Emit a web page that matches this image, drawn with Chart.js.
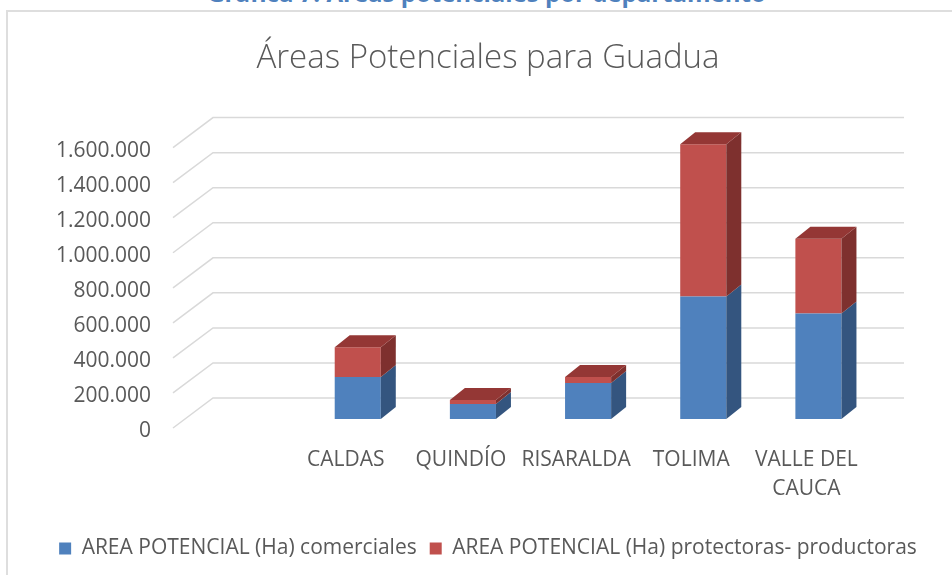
<!DOCTYPE html>
<html>
<head>
<meta charset="utf-8">
<script src="https://cdn.jsdelivr.net/npm/chart.js@4.4.1/dist/chart.umd.min.js"></script>
<style>
body { margin: 0; background: #fff; overflow: hidden; font-family: 'Open Sans', sans-serif; }
#hdr { position: absolute; left: 0; top: -19px; width: 973px; text-align: center; font-weight: bold; font-size: 24px; line-height: 24px; color: #4f81bd; white-space: nowrap; }
#frame { position: absolute; left: 6px; top: 10px; width: 2000px; height: 2000px; border-left: 2px solid #dedede; border-top: 2px solid #dedede; }
#chart { position: absolute; left: 0; top: 0; }
</style>
</head>
<body>
<div id="hdr">Gráfica 7. Áreas potenciales por departamento</div>
<div id="frame"></div>
<canvas id="chart" width="952" height="575"></canvas>
<script>
// Data (hectáreas)
const departamentos = ['', 'CALDAS', 'QUINDÍO', 'RISARALDA', 'TOLIMA', ['VALLE DEL', 'CAUCA']];
const comerciales = [null, 239000, 85000, 205000, 699000, 602000];
const protectoras = [null, 170000, 23000, 34000, 869000, 426000];
const serieNombres = ['AREA POTENCIAL (Ha) comerciales', 'AREA POTENCIAL (Ha) protectoras- productoras'];

// 3D offsets
const DX = 15, DY = 12;          // bar depth
const WALL_X = 28, WALL_Y = 21;  // back wall from bar plane
const FRONT_X = 12, FRONT_Y = 9; // front edge from bar plane
const PAD_BOTTOM = 6;

function miles(v) {
    return String(v).replace(/\B(?=(\d{3})+(?!\d))/g, '.');
}

const fake3d = {
    id: 'fake3d',
    beforeDatasetsDraw(chart) {
        const { ctx, chartArea, scales } = chart;
        const y = scales.y;
        ctx.save();
        ctx.strokeStyle = '#d9d9d9';
        ctx.lineWidth = 1.5;
        y.ticks.forEach(t => {
            const py = y.getPixelForValue(t.value);
            ctx.beginPath();
            ctx.moveTo(chartArea.left - FRONT_X, py + FRONT_Y);
            ctx.lineTo(chartArea.left + WALL_X, py - WALL_Y);
            ctx.lineTo(chartArea.right + WALL_X, py - WALL_Y);
            ctx.stroke();
        });
        ctx.restore();
    },
    afterDatasetsDraw(chart) {
        const ctx = chart.ctx;
        const last = chart.data.datasets.length - 1;
        ctx.save();
        chart.data.datasets.forEach((ds, di) => {
            chart.getDatasetMeta(di).data.forEach((bar, i) => {
                if (ds.data[i] == null) return;
                const { x, y, base, width } = bar.getProps(['x', 'y', 'base', 'width'], true);
                const l = x - width / 2, r = x + width / 2;
                // side
                ctx.fillStyle = ds.sideColor;
                ctx.beginPath();
                ctx.moveTo(r, y);
                ctx.lineTo(r + DX, y - DY);
                ctx.lineTo(r + DX, base - DY);
                ctx.lineTo(r, base);
                ctx.closePath();
                ctx.fill();
                // top
                if (di === last) {
                    ctx.fillStyle = ds.topColor;
                    ctx.beginPath();
                    ctx.moveTo(l, y);
                    ctx.lineTo(l + DX, y - DY);
                    ctx.lineTo(r + DX, y - DY);
                    ctx.lineTo(r, y);
                    ctx.closePath();
                    ctx.fill();
                }
            });
        });
        ctx.restore();
    }
};

const ctx = document.getElementById('chart').getContext('2d');
const chart = new Chart(ctx, {
    type: 'bar',
    data: {
        labels: departamentos,
        datasets: [
            {
                label: serieNombres[0],
                data: comerciales,
                backgroundColor: '#4f81bd',
                sideColor: '#34557f',
                topColor: '#4a78b0',
                borderWidth: 0
            },
            {
                label: serieNombres[1],
                data: protectoras,
                backgroundColor: '#c0504d',
                sideColor: '#7e302e',
                topColor: '#943735',
                borderWidth: 0
            }
        ]
    },
    options: {
        responsive: false,
        animation: false,
        layout: { padding: { left: 24, right: 0, top: 0, bottom: PAD_BOTTOM } },
        datasets: {
            bar: { categoryPercentage: 1, barPercentage: 0.4 }
        },
        plugins: {
            title: {
                display: true,
                text: 'Áreas Potenciales para Guadua',
                color: '#595959',
                font: { family: 'Open Sans', size: 33, weight: '300' },
                padding: { top: 39, bottom: 60 }
            },
            legend: {
                position: 'bottom',
                labels: {
                    color: '#595959',
                    font: { family: 'Open Sans', size: 21 },
                    boxWidth: 12,
                    boxHeight: 12,
                    padding: 13
                }
            },
            tooltip: { enabled: false }
        },
        scales: {
            x: {
                stacked: true,
                grid: { display: false, drawTicks: false },
                border: { display: false },
                ticks: {
                    color: '#595959',
                    font: { family: 'Open Sans', size: 21, lineHeight: 1.4 },
                    padding: 26,
                    labelOffset: -FRONT_X,
                    autoSkip: false,
                    maxRotation: 0
                },
                afterFit(s) {
                    s.height = s.chart.height - PAD_BOTTOM - s.chart.legend.height - 419;
                }
            },
            y: {
                stacked: true,
                min: 0,
                max: 1600000,
                grid: { display: false, drawTicks: false },
                border: { display: false },
                ticks: {
                    stepSize: 200000,
                    color: '#595959',
                    font: { family: 'Open Sans', size: 21 },
                    padding: 34,
                    labelOffset: 12,
                    callback: v => miles(v)
                },
                afterFit(s) { s.width = 161; }
            },
            y2: {
                position: 'right',
                display: true,
                grid: { display: false, drawTicks: false },
                border: { display: false },
                ticks: { display: false },
                afterFit(s) { s.width = 76; }
            }
        }
    },
    plugins: [fake3d]
});
</script>
</body>
</html>
